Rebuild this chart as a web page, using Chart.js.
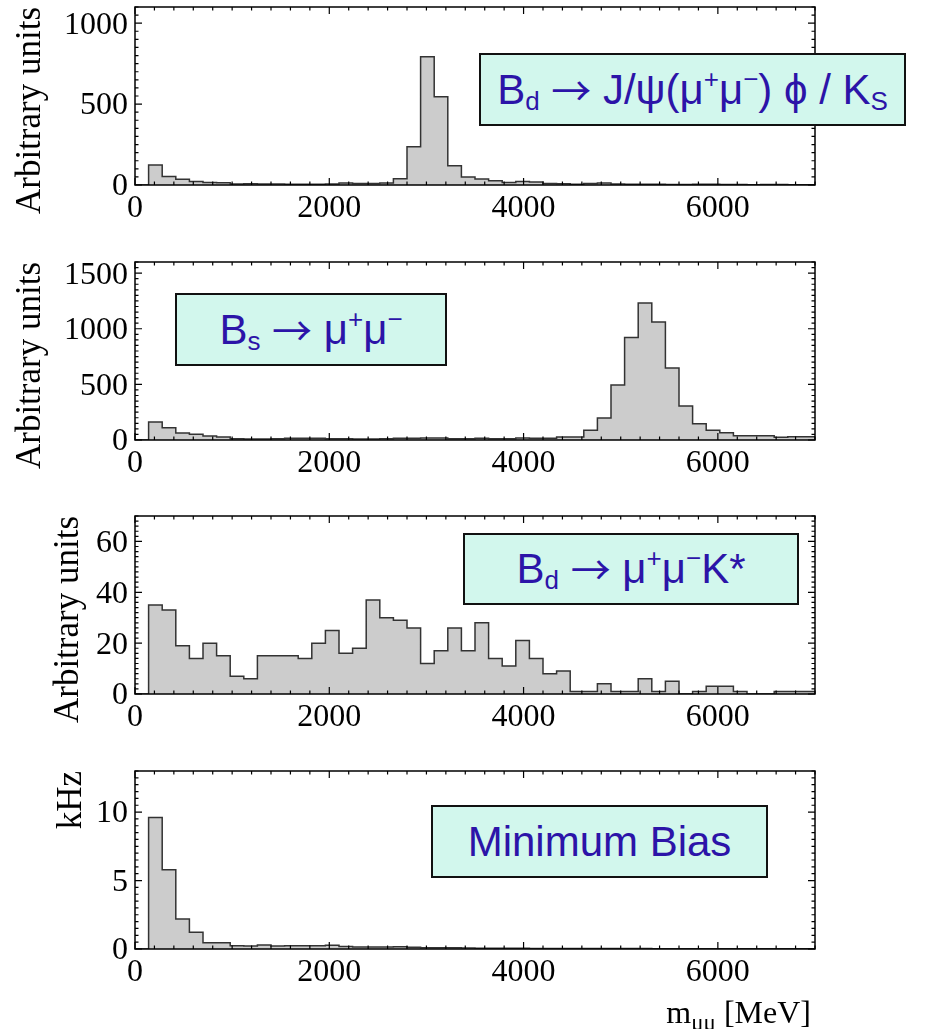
<!DOCTYPE html>
<html><head><meta charset="utf-8">
<script src="https://cdn.jsdelivr.net/npm/chart.js@4.4.1/dist/chart.umd.min.js"></script>
<style>
html,body{margin:0;padding:0;background:#fff;}
body{width:929px;height:1029px;position:relative;overflow:hidden;}
canvas{position:absolute;left:0;}
.box{position:absolute;box-sizing:border-box;background:#d2f7ed;border:2px solid #111;display:flex;align-items:center;justify-content:center;
  font-family:"Liberation Sans",Arial,sans-serif;font-size:42px;line-height:48px;color:#2c14a8;white-space:nowrap;z-index:5;}
.box .sb{font-size:26px;position:relative;top:11px;}
.box .sp{font-size:26px;position:relative;top:-11px;}
.box .ar{font-family:"Noto Sans CJK JP","DejaVu Sans",sans-serif;font-size:40px;position:relative;top:-1px;}
#xtitle{position:absolute;right:118px;top:996px;font-family:"Liberation Serif","Times New Roman",serif;font-size:32px;line-height:32px;color:#000;white-space:nowrap;}
#xtitle .sb{font-size:23px;position:relative;top:7px;}
</style>
</head>
<body>
<canvas id="c1" width="929" height="255" style="top:0px"></canvas>
<canvas id="c2" width="929" height="255" style="top:255px"></canvas>
<canvas id="c3" width="929" height="255" style="top:509px"></canvas>
<canvas id="c4" width="929" height="265" style="top:764px"></canvas>

<div class="box" style="left:479px;top:53px;width:427px;height:73px;">B<span class="sb">d</span>&nbsp;<span class="ar">→</span>&nbsp;J/ψ(μ<span class="sp">+</span>μ<span class="sp">−</span>) ϕ / K<span class="sb">S</span></div>
<div class="box" style="left:175px;top:293px;width:272px;height:73px;">B<span class="sb">s</span>&nbsp;<span class="ar">→</span>&nbsp;μ<span class="sp">+</span>μ<span class="sp">−</span></div>
<div class="box" style="left:463px;top:533px;width:336px;height:72px;">B<span class="sb">d</span>&nbsp;<span class="ar">→</span>&nbsp;μ<span class="sp">+</span>μ<span class="sp">−</span>K*</div>
<div class="box" style="left:431px;top:805px;width:337px;height:73px;">Minimum Bias</div>
<div id="xtitle">m<span class="sb">μμ</span> [MeV]</div>

<script>
// ---- axis / binning ----
const xMin = 0, xMax = 7000;
const binStart = 140, binWidth = 140;          // 49 bins: 140 .. 7000 MeV
const xTickValues = [0, 2000, 4000, 6000];
const xMinorStep = 200;

// ---- series (bin contents, bins start at 140 MeV, width 140 MeV) ----
const bdJpsiPhiKsValues = [
  123, 53, 35, 21, 16, 14, 6, 8, 6, 6,
  4, 4, 5, 6, 12, 10, 10, 12, 39, 237,
  792, 545, 119, 49, 37, 27, 16, 21, 19, 10,
  8, 4, 10, 12, 6, 5, 4, 4, 3, 3,
  5, 4, 3, 3, 2, 3, 3, 2, 2
];
const bsMuMuValues = [
  162, 111, 63, 51, 36, 27, 12, 9, 9, 12,
  15, 15, 15, 12, 12, 10, 10, 12, 15, 15,
  18, 18, 12, 12, 15, 12, 12, 18, 15, 15,
  27, 27, 87, 198, 494, 922, 1231, 1060, 647, 305,
  147, 87, 66, 39, 39, 39, 24, 30, 30
];
const bdMuMuKstarValues = [
  35, 33, 19, 14, 20, 15, 7, 6, 15, 15,
  15, 14, 20, 25, 16, 18, 37, 30, 29, 26,
  12, 17, 26, 17, 28, 14, 11, 21, 14, 8,
  9, 1, 1, 4, 1, 1, 6, 1, 5, 0,
  1, 3, 3, 1, 0, 0, 1, 1, 1
];
const minBiasValues = [
  9.6, 5.78, 2.2, 1.22, 0.46, 0.46, 0.24, 0.22, 0.29, 0.22,
  0.24, 0.24, 0.24, 0.27, 0.18, 0.15, 0.15, 0.15, 0.17, 0.12,
  0.1, 0.1, 0.1, 0.08, 0.06, 0.05, 0.05, 0.05, 0.04, 0.04,
  0.03, 0.03, 0.03, 0.03, 0.03, 0.03, 0.03, 0.02, 0.02, 0.02,
  0.02, 0.02, 0.02, 0.02, 0.02, 0.02, 0.02, 0.02, 0.02
];

// ---- y-axis ticks per panel ----
const yTicks1 = [0, 500, 1000];
const yTicks2 = [0, 500, 1000, 1500];
const yTicks3 = [0, 20, 40, 60];
const yTicks4 = [0, 5, 10];

const yTitleArb = "Arbitrary units";
const yTitleKHz = "kHz";

const SERIF = '"Liberation Serif","Times New Roman",serif';

function histPoints(values) {
  const pts = [{x: xMin, y: 0}];
  values.forEach((v, i) => pts.push({x: binStart + i * binWidth, y: v}));
  pts.push({x: xMax, y: values[values.length - 1]});
  return pts;
}

const frameTicks = {
  id: 'frameTicks',
  afterDraw(chart, args, opts) {
    const {ctx, chartArea: a, scales: {x, y}} = chart;
    ctx.save();
    ctx.strokeStyle = '#000';
    ctx.lineWidth = 1.2;
    ctx.beginPath();
    const nx = Math.round((x.max - x.min) / opts.xMinor);
    for (let i = 0; i <= nx; i++) {
      const v = x.min + i * opts.xMinor;
      const px = x.getPixelForValue(v);
      const len = (i % 10 === 0) ? 7 : 3.5;
      ctx.moveTo(px, a.bottom); ctx.lineTo(px, a.bottom - len);
      ctx.moveTo(px, a.top); ctx.lineTo(px, a.top + len);
    }
    const ny = Math.floor((y.max - y.min) / opts.yMinor + 1e-6);
    for (let i = 0; i <= ny; i++) {
      const v = y.min + i * opts.yMinor;
      const py = y.getPixelForValue(v);
      const len = (i % 10 === 0) ? 7 : 3.5;
      ctx.moveTo(a.left, py); ctx.lineTo(a.left + len, py);
      ctx.moveTo(a.right, py); ctx.lineTo(a.right - len, py);
    }
    ctx.stroke();
    ctx.lineWidth = 1.5;
    ctx.strokeRect(a.left, a.top, a.right - a.left, a.bottom - a.top);
    ctx.restore();
  }
};

const plainNumber = v => String(v);

function makePanel(id, values, yMax, yTicks, yMinor, yTitle, titlePad, canvasH) {
  const cv = document.getElementById(id);
  return new Chart(cv, {
    type: 'line',
    data: {datasets: [{
      data: histPoints(values),
      stepped: 'before',
      fill: 'origin',
      backgroundColor: '#cccccc',
      borderColor: '#333333',
      borderWidth: 1.5,
      pointRadius: 0,
      tension: 0
    }]},
    options: {
      responsive: false,
      animation: false,
      devicePixelRatio: 1,
      events: [],
      layout: {padding: {top: 7, left: 0, right: 114, bottom: canvasH - 7 - 178 - 45}},
      plugins: {
        legend: {display: false},
        tooltip: {enabled: false},
        frameTicks: {xMinor: xMinorStep, yMinor: yMinor}
      },
      scales: {
        x: {
          type: 'linear', min: xMin, max: xMax,
          afterBuildTicks: s => { s.ticks = xTickValues.map(v => ({value: v})); },
          afterFit: s => { s.height = 45; s.paddingLeft = 0; s.paddingRight = 0; },
          grid: {display: false, drawTicks: false},
          border: {display: false},
          ticks: {font: {family: SERIF, size: 32}, color: '#000', padding: 4, maxRotation: 0, autoSkip: false, callback: plainNumber}
        },
        y: {
          type: 'linear', min: 0, max: yMax,
          afterBuildTicks: s => { s.ticks = yTicks.map(v => ({value: v})); },
          afterFit: s => { s.width = 135; s.paddingTop = 0; s.paddingBottom = 0; },
          grid: {display: false, drawTicks: false},
          border: {display: false},
          ticks: {font: {family: SERIF, size: 32}, color: '#000', padding: 7, labelOffset: 2, callback: plainNumber},
          title: {display: true, text: yTitle, color: '#000', align: 'end',
                  font: {family: SERIF, size: 35}, padding: {top: titlePad, bottom: 0}}
        }
      }
    },
    plugins: [frameTicks]
  });
}

makePanel('c1', bdJpsiPhiKsValues, 1100, yTicks1, 50, yTitleArb, 10, 255);
makePanel('c2', bsMuMuValues, 1600, yTicks2, 50, yTitleArb, 10, 255);
makePanel('c3', bdMuMuKstarValues, 70, yTicks3, 2, yTitleArb, 48, 255);
makePanel('c4', minBiasValues, 13, yTicks4, 0.5, yTitleKHz, 51, 265);
</script>
</body></html>
